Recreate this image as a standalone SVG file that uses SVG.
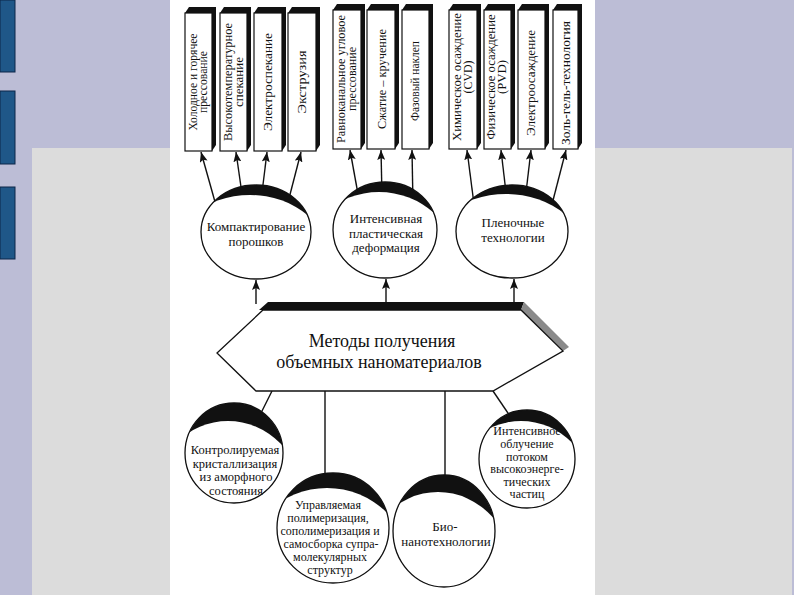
<svg xmlns="http://www.w3.org/2000/svg" width="794" height="595" viewBox="0 0 794 595">
<style>
.bt{font-family:"Liberation Serif","Times New Roman",serif;font-size:12px;fill:#111;text-anchor:middle;dominant-baseline:central}
.et{font-family:"Liberation Serif","Times New Roman",serif;font-size:13px;fill:#111;text-anchor:middle}
.ea{font-family:"Liberation Serif","Times New Roman",serif;font-size:12.5px;fill:#111;text-anchor:middle}
.es{font-family:"Liberation Serif","Times New Roman",serif;font-size:12px;fill:#111;text-anchor:middle}
.ht{font-family:"Liberation Serif","Times New Roman",serif;font-size:18px;fill:#111;text-anchor:middle}
.box{fill:#fff;stroke:#111;stroke-width:1.2}
.sh{fill:#111}
.ln{stroke:#111;stroke-width:1.4;fill:none}
.arr{marker-end:url(#ah)}
.eo{fill:none;stroke:#111;stroke-width:1.3}
</style>
<defs>
<marker id="ah" markerUnits="userSpaceOnUse" markerWidth="10" markerHeight="8" refX="10" refY="4" orient="auto">
<path d="M0,0 L10,4 L0,8 L2,4 z" fill="#111"/>
</marker>
<clipPath id="c1"><ellipse cx="256" cy="232" rx="55" ry="47"/></clipPath>
<clipPath id="c2"><ellipse cx="385" cy="230" rx="52" ry="48"/></clipPath>
<clipPath id="c3"><ellipse cx="512" cy="231.5" rx="56" ry="46.5"/></clipPath>
<clipPath id="cA"><ellipse cx="234" cy="453" rx="49" ry="50"/></clipPath>
<clipPath id="cB"><ellipse cx="333" cy="528" rx="56" ry="55"/></clipPath>
<clipPath id="cC"><ellipse cx="444" cy="531" rx="51" ry="56"/></clipPath>
<clipPath id="cD"><ellipse cx="527" cy="459" rx="48" ry="49"/></clipPath>
</defs>

<!-- background -->
<rect x="0" y="0" width="794" height="595" fill="#bcbdd6"/>
<rect x="32" y="148" width="138" height="447" fill="#dcdcdc"/>
<rect x="595" y="148" width="197" height="447" fill="#dcdcdc"/>
<rect x="170" y="0" width="425" height="595" fill="#ffffff"/>
<rect x="0" y="0" width="15" height="72" fill="#1f5788" stroke="#0c2748" stroke-width="1"/>
<rect x="0" y="91" width="15" height="73" fill="#1f5788" stroke="#0c2748" stroke-width="1"/>
<rect x="0" y="187" width="15" height="72" fill="#1f5788" stroke="#0c2748" stroke-width="1"/>

<!-- connectors -->
<g id="connectors">
<line class="ln arr" x1="217" y1="209" x2="201" y2="152"/>
<line class="ln arr" x1="243" y1="201" x2="236" y2="152"/>
<line class="ln arr" x1="261" y1="201" x2="267" y2="152"/>
<line class="ln arr" x1="286" y1="210" x2="301" y2="152"/>
<line class="ln arr" x1="360" y1="205" x2="350" y2="150"/>
<line class="ln arr" x1="382" y1="197" x2="381" y2="150"/>
<line class="ln arr" x1="413" y1="205" x2="412" y2="150"/>
<line class="ln arr" x1="475" y1="212" x2="467" y2="150"/>
<line class="ln arr" x1="507" y1="201" x2="501" y2="150"/>
<line class="ln arr" x1="525" y1="201" x2="531" y2="150"/>
<line class="ln arr" x1="550" y1="212" x2="566" y2="150"/>
<line class="ln arr" x1="256" y1="304" x2="256" y2="280"/>
<line class="ln arr" x1="386" y1="304" x2="386" y2="279"/>
<line class="ln arr" x1="514" y1="304" x2="514" y2="279"/>
<line class="ln" x1="272" y1="391" x2="260" y2="415"/>
<line class="ln" x1="325" y1="391" x2="325" y2="485"/>
<line class="ln" x1="445" y1="391" x2="445" y2="485"/>
<line class="ln" x1="493" y1="391" x2="510" y2="416"/>
</g>

<!-- top boxes -->
<g id="box1"><polygon class="sh" points="185,13 189,7 216,7 216,145 212,151"/><rect class="box" x="185" y="13" width="27" height="138"/>
<g transform="translate(198.5,82) rotate(-90)"><text class="bt" x="0" y="-5.5" textLength="97" lengthAdjust="spacingAndGlyphs">Холодное и горячее</text><text class="bt" x="0" y="4.5" textLength="62" lengthAdjust="spacingAndGlyphs">прессование</text></g></g>
<g id="box2"><polygon class="sh" points="220,13 224,7 251,7 251,145 247,151"/><rect class="box" x="220" y="13" width="27" height="138"/>
<g transform="translate(233.5,82) rotate(-90)"><text class="bt" x="0" y="-6" textLength="118" lengthAdjust="spacingAndGlyphs">Высокотемпературное</text><text class="bt" x="0" y="5" textLength="50" lengthAdjust="spacingAndGlyphs">спекание</text></g></g>
<g id="box3"><polygon class="sh" points="254,13 258,7 286,7 286,145 282,151"/><rect class="box" x="254" y="13" width="28" height="138"/>
<g transform="translate(268,82) rotate(-90)"><text class="bt" x="0" y="0" textLength="98" lengthAdjust="spacingAndGlyphs">Электроспекание</text></g></g>
<g id="box4"><polygon class="sh" points="288,13 292,7 320,7 320,145 316,151"/><rect class="box" x="288" y="13" width="28" height="138"/>
<g transform="translate(302,82) rotate(-90)"><text class="bt" x="0" y="0" textLength="63" lengthAdjust="spacingAndGlyphs">Экструзия</text></g></g>

<g id="box5"><polygon class="sh" points="333,10 337,4 365,4 365,143 361,149"/><rect class="box" x="333" y="10" width="28" height="139"/>
<g transform="translate(347,79) rotate(-90)"><text class="bt" x="0" y="-6.5" textLength="128" lengthAdjust="spacingAndGlyphs">Равноканальное угловое</text><text class="bt" x="0" y="5" textLength="64" lengthAdjust="spacingAndGlyphs">прессование</text></g></g>
<g id="box6"><polygon class="sh" points="367,10 371,4 399,4 399,143 395,149"/><rect class="box" x="367" y="10" width="28" height="139"/>
<g transform="translate(382,79) rotate(-90)"><text class="bt" x="0" y="0" textLength="100" lengthAdjust="spacingAndGlyphs">Сжатие – кручение</text></g></g>
<g id="box7"><polygon class="sh" points="402,10 406,4 433,4 433,143 429,149"/><rect class="box" x="402" y="10" width="27" height="139"/>
<g transform="translate(414.5,81) rotate(-90)"><text class="bt" x="0" y="0" textLength="80" lengthAdjust="spacingAndGlyphs">Фазовый наклеп</text></g></g>

<g id="box8"><polygon class="sh" points="449,10 453,4 481,4 481,143 477,149"/><rect class="box" x="449" y="10" width="28" height="139"/>
<g transform="translate(463,77) rotate(-90)"><text class="bt" x="0" y="-6" textLength="128" lengthAdjust="spacingAndGlyphs">Химическое осаждение</text><text class="bt" x="0" y="5" textLength="33" lengthAdjust="spacingAndGlyphs">(CVD)</text></g></g>
<g id="box9"><polygon class="sh" points="484,10 488,4 515,4 515,143 511,149"/><rect class="box" x="484" y="10" width="27" height="139"/>
<g transform="translate(497.5,77) rotate(-90)"><text class="bt" x="0" y="-7" textLength="125" lengthAdjust="spacingAndGlyphs">Физическое осаждение</text><text class="bt" x="0" y="4.5" textLength="34" lengthAdjust="spacingAndGlyphs">(PVD)</text></g></g>
<g id="box10"><polygon class="sh" points="518,10 522,4 549,4 549,143 545,149"/><rect class="box" x="518" y="10" width="27" height="139"/>
<g transform="translate(531,83) rotate(-90)"><text class="bt" x="0" y="0" textLength="106" lengthAdjust="spacingAndGlyphs">Электроосаждение</text></g></g>
<g id="box11"><polygon class="sh" points="553,10 557,4 582,4 582,143 578,149"/><rect class="box" x="553" y="10" width="25" height="139"/>
<g transform="translate(565.5,83) rotate(-90)"><text class="bt" x="0" y="0" textLength="124" lengthAdjust="spacingAndGlyphs">Золь-гель-технология</text></g></g>

<!-- top ellipses -->
<g id="ell1">
<ellipse cx="256" cy="232" rx="55" ry="47" fill="#111"/>
<ellipse cx="250" cy="265.5" rx="82.5" ry="70.5" fill="#fff" clip-path="url(#c1)"/>
<ellipse class="eo" cx="256" cy="232" rx="55" ry="47"/>
<text class="et" x="256" y="231">Компактирование</text>
<text class="et" x="256" y="246">порошков</text>
</g>
<g id="ell2">
<ellipse cx="385" cy="230" rx="52" ry="48" fill="#111"/>
<ellipse cx="379" cy="264" rx="78" ry="72" fill="#fff" clip-path="url(#c2)"/>
<ellipse class="eo" cx="385" cy="230" rx="52" ry="48"/>
<text class="et" x="386" y="223">Интенсивная</text>
<text class="et" x="386" y="237.5">пластическая</text>
<text class="et" x="386" y="252">деформация</text>
</g>
<g id="ell3">
<ellipse cx="512" cy="231.5" rx="56" ry="46.5" fill="#111"/>
<ellipse cx="506" cy="263.75" rx="84" ry="69.75" fill="#fff" clip-path="url(#c3)"/>
<ellipse class="eo" cx="512" cy="231.5" rx="56" ry="46.5"/>
<text class="et" x="513" y="227">Пленочные</text>
<text class="et" x="513" y="242">технологии</text>
</g>

<!-- central hexagon -->
<g id="center">
<polygon class="sh" points="259,310 268,302 524,302 521,310"/>
<polygon fill="#8a8a8a" points="521,310 524,302 569,347 563,351"/>
<polygon fill="#fff" stroke="#111" stroke-width="1.3" points="263,310 521,310 563,351 493,391 256,391 217,353"/>
<text class="ht" x="382" y="347">Методы получения</text>
<text class="ht" x="379" y="368">объемных наноматериалов</text>
</g>

<!-- bottom ellipses -->
<g id="ellA">
<ellipse cx="234" cy="453" rx="49" ry="50" fill="#111"/>
<ellipse cx="228" cy="496" rx="73.5" ry="75" fill="#fff" clip-path="url(#cA)"/>
<ellipse class="eo" cx="234" cy="453" rx="49" ry="50"/>
<text class="ea" x="235" y="454">Контролируемая</text>
<text class="ea" x="235" y="467.5">кристаллизация</text>
<text class="ea" x="236" y="481">из аморфного</text>
<text class="ea" x="236" y="494.5">состояния</text>
</g>
<g id="ellB">
<ellipse cx="333" cy="528" rx="56" ry="55" fill="#111"/>
<ellipse cx="327" cy="570.5" rx="84" ry="82.5" fill="#fff" clip-path="url(#cB)"/>
<ellipse class="eo" cx="333" cy="528" rx="56" ry="55"/>
<text class="es" x="328" y="509">Управляемая</text>
<text class="es" x="328" y="522">полимеризация,</text>
<text class="es" x="330" y="535">сополимеризация и</text>
<text class="es" x="331" y="548">самосборка супра-</text>
<text class="es" x="330" y="561">молекулярных</text>
<text class="es" x="330" y="574">структур</text>
</g>
<g id="ellC">
<ellipse cx="444" cy="531" rx="51" ry="56" fill="#111"/>
<ellipse cx="438" cy="576" rx="76.5" ry="84" fill="#fff" clip-path="url(#cC)"/>
<ellipse class="eo" cx="444" cy="531" rx="51" ry="56"/>
<text class="et" x="445" y="531">Био-</text>
<text class="et" x="446" y="546">нанотехнологии</text>
</g>
<g id="ellD">
<ellipse cx="527" cy="459" rx="48" ry="49" fill="#111"/>
<ellipse cx="521" cy="494.5" rx="72" ry="73.5" fill="#fff" clip-path="url(#cD)"/>
<ellipse class="eo" cx="527" cy="459" rx="48" ry="49"/>
<text class="es" x="527" y="435">Интенсивное</text>
<text class="es" x="527" y="448">облучение</text>
<text class="es" x="527" y="460.5">потоком</text>
<text class="es" x="527" y="473">высокоэнерге-</text>
<text class="es" x="527" y="485.5">тических</text>
<text class="es" x="527" y="498">частиц</text>
</g>
</svg>
